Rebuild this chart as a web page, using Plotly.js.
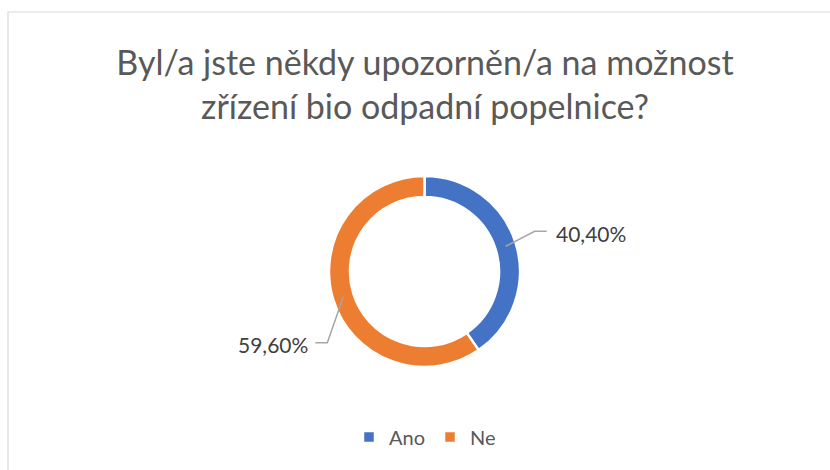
<!DOCTYPE html>
<html>
<head>
<meta charset="utf-8">
<script src="https://cdn.plot.ly/plotly-3.0.1.min.js"></script>
<style>html,body{margin:0;padding:0;background:#fff;}#chart{width:830px;height:470px;}</style>
</head>
<body>
<div id="chart"></div>
<script>
// ---- data ----
const categories = ['Ano', 'Ne'];
const values = [40.4, 59.6];
const valueLabels = ['40,40%', '59,60%'];
const colors = ['#4472C4', '#ED7D31'];
const chartTitle = 'Byl/a jste někdy upozorněn/a na možnost<br>zřízení bio odpadní popelnice?';

// ---- layout constants (pixels) ----
const W = 830, H = 470;
const cx = 424.5, cy = 271.5, R = 95.5, Rin = 74.5;
const FONT = 'Lato, "Open Sans", sans-serif';
// per-label leader geometry relative to slice anchor: elbow, end, text
const leaderStyle = [
  {elbow: [29, -15], end: [41, -15], text: [48, -13], anchor: 'left'},
  {elbow: [-16, 46], end: [-28, 46], text: [-33, 48], anchor: 'right'}
];

const px = x => x / W;
const py = y => 1 - y / H;

const total = values.reduce((a, b) => a + b, 0);
const shapes = [{
  type: 'rect', xref: 'paper', yref: 'paper',
  x0: px(8), x1: 1.05, y0: -0.05, y1: py(12),
  line: {color: '#D9D9D9', width: 1.2}, fillcolor: 'rgba(0,0,0,0)'
}];
const annotations = [];
let cum = 0;
values.forEach((v, i) => {
  const mid = (cum + v / 2) / total * 2 * Math.PI; // clockwise from top
  cum += v;
  const rm = (R + Rin) / 2;
  const ax = cx + rm * Math.sin(mid);
  const ay = cy - rm * Math.cos(mid);
  const s = leaderStyle[i];
  const ex = ax + s.elbow[0], ey = ay + s.elbow[1];
  const fx = ax + s.end[0], fy = ay + s.end[1];
  shapes.push({
    type: 'path', xref: 'paper', yref: 'paper',
    path: `M${px(ax)},${py(ay)} L${px(ex)},${py(ey)} L${px(fx)},${py(fy)}`,
    line: {color: '#A6A6A6', width: 1.5}
  });
  annotations.push({
    xref: 'paper', yref: 'paper',
    x: px(ax + s.text[0]), y: py(ay + s.text[1]),
    xanchor: s.anchor, yanchor: 'middle',
    text: valueLabels[i], showarrow: false,
    font: {family: FONT, size: 21, color: '#404040'}
  });
});

const trace = {
  type: 'pie',
  labels: categories,
  values: values,
  hole: Rin / R,
  sort: false,
  direction: 'clockwise',
  rotation: 0,
  textinfo: 'none',
  hoverinfo: 'label+percent',
  marker: {colors: colors, line: {color: '#FFFFFF', width: 2.5}},
  domain: {x: [px(cx - R), px(cx + R)], y: [py(cy + R), py(cy - R)]}
};

const layout = {
  width: W, height: H,
  margin: {l: 0, r: 0, t: 0, b: 0},
  paper_bgcolor: '#FFFFFF',
  title: {
    text: chartTitle,
    font: {family: FONT, size: 34, color: '#595959'},
    x: 425 / W, xanchor: 'center',
    yref: 'container', y: 1 - 75 / H, yanchor: 'middle'
  },
  showlegend: true,
  legend: {
    orientation: 'h',
    x: 425 / W, xanchor: 'center',
    y: py(437), yanchor: 'middle',
    font: {family: FONT, size: 20, color: '#595959'},
    itemwidth: 30
  },
  shapes: shapes,
  annotations: annotations
};

Plotly.newPlot('chart', [trace], layout, {displayModeBar: false, staticPlot: true});
</script>
</body>
</html>
